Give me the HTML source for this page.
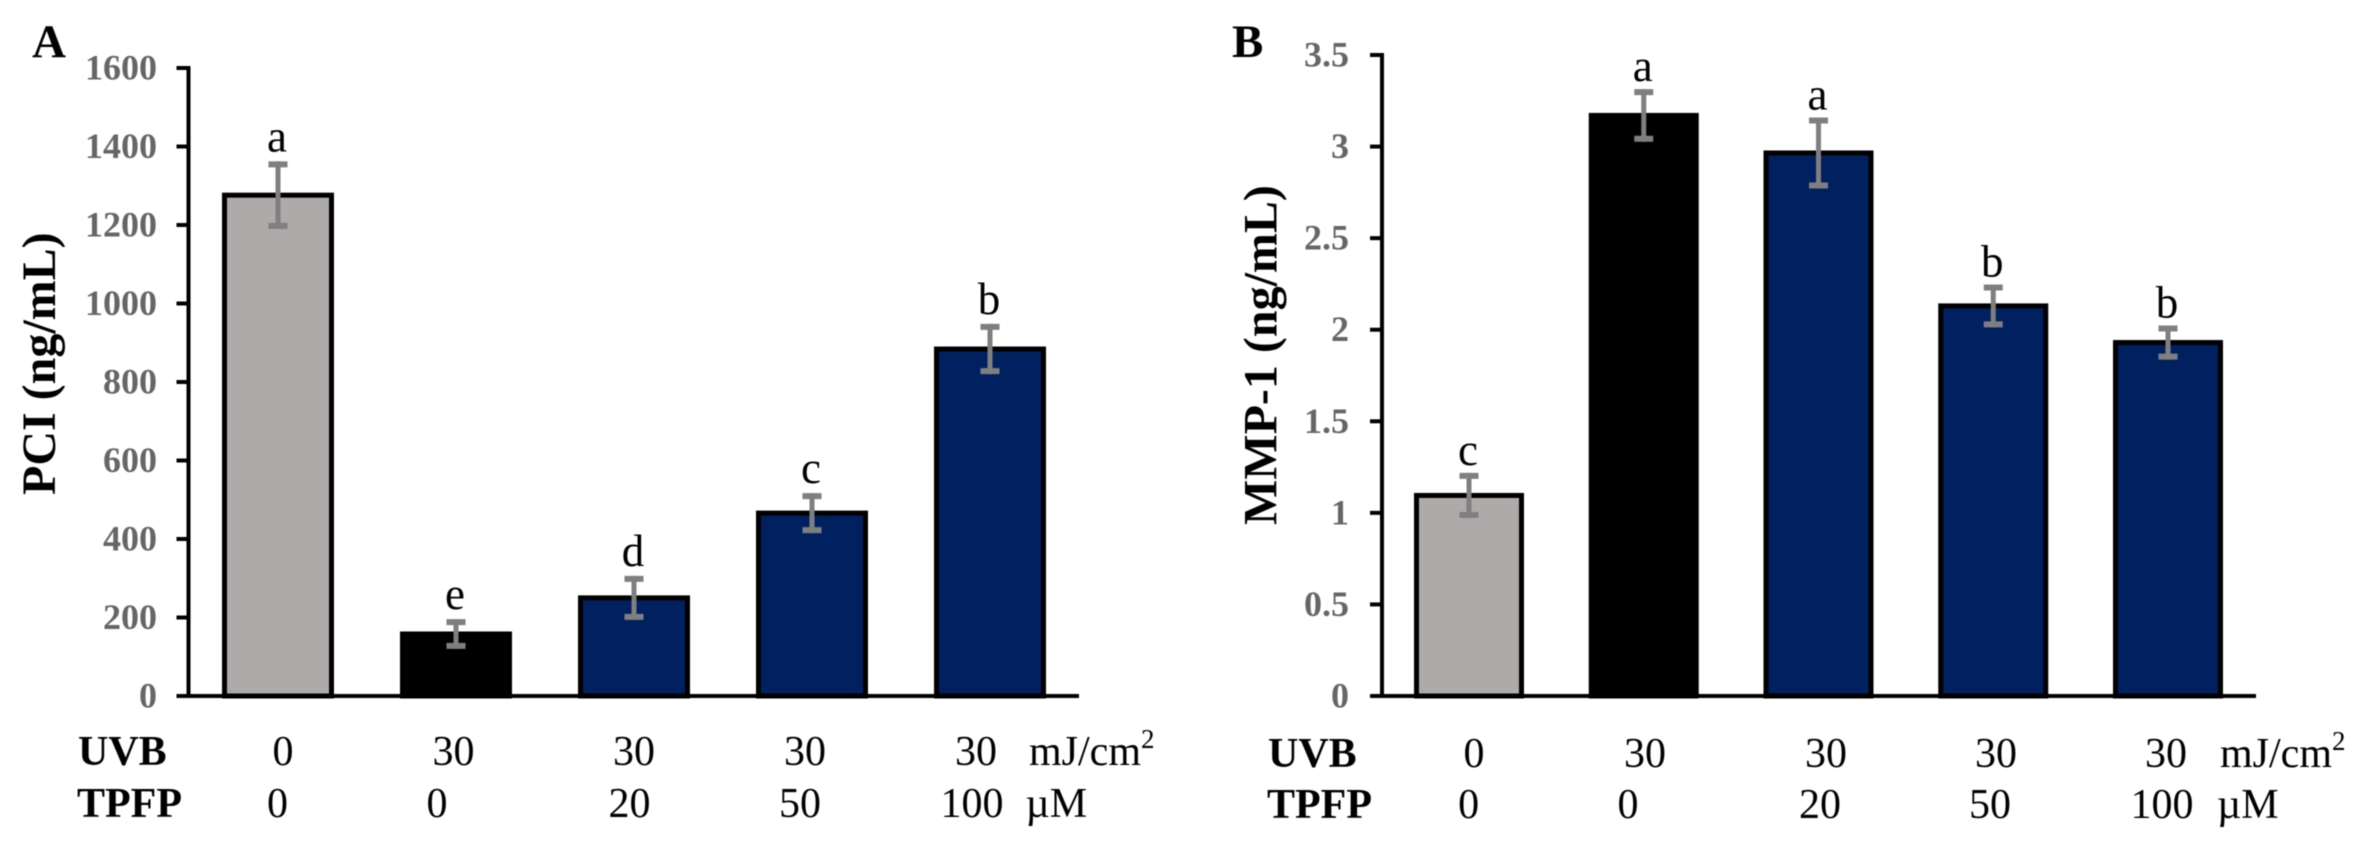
<!DOCTYPE html>
<html lang="en">
<head>
<meta charset="utf-8">
<title>PCI and MMP-1 bar charts</title>
<style>
  html, body { margin: 0; padding: 0; background: #fff; }
  #figure { display: block; width: 2361px; height: 845px; filter: blur(0.5px); }
  text { font-family: "Liberation Serif", serif; }
  .tick { font-size: 36px; font-weight: bold; fill: #666; text-anchor: end; }
  .row { font-size: 42px; fill: #000; text-anchor: middle; }
  .row-head { font-size: 42px; font-weight: bold; fill: #000; }
  .unit { font-size: 42px; fill: #000; }
  .title { font-size: 48px; font-weight: bold; fill: #000; }
  .panel { font-size: 47px; font-weight: bold; fill: #000; }
  .sig { font-size: 45px; fill: #000; text-anchor: middle; }
</style>
</head>
<body>
<svg id="figure" xmlns="http://www.w3.org/2000/svg" width="2361" height="845" viewBox="0 0 2361 845">
  <rect width="2361" height="845" fill="#fff"/>

  <g id="panel-a">
    <text class="panel" x="32" y="57">A</text>
    <text class="title" transform="translate(55,495) rotate(-90)">PCI (ng/mL)</text>
    <g>
      <text class="row-head" x="78" y="765">UVB</text>
      <text class="row" x="283" y="765">0</text>
      <text class="row" x="453.5" y="765">30</text>
      <text class="row" x="634" y="765">30</text>
      <text class="row" x="805" y="765">30</text>
      <text class="row" x="976" y="765">30</text>
      <text class="unit" x="1029" y="765">mJ/cm<tspan font-size="27" dy="-17">2</tspan></text>
    </g>
    <g>
      <text class="row-head" x="77" y="817">TPFP</text>
      <text class="row" x="277.5" y="817">0</text>
      <text class="row" x="437" y="817">0</text>
      <text class="row" x="629.5" y="817">20</text>
      <text class="row" x="800" y="817">50</text>
      <text class="row" x="972" y="817">100</text>
      <text class="unit" x="1025.5" y="817">µM</text>
    </g>
  </g>

  <g id="panel-b">
    <text class="panel" x="1232" y="57">B</text>
    <text class="title" transform="translate(1276.5,525) rotate(-90)">MMP-1 (ng/mL)</text>
    <g>
      <text class="row-head" x="1268" y="767">UVB</text>
      <text class="row" x="1474" y="767">0</text>
      <text class="row" x="1645" y="767">30</text>
      <text class="row" x="1826" y="767">30</text>
      <text class="row" x="1996" y="767">30</text>
      <text class="row" x="2166" y="767">30</text>
      <text class="unit" x="2220" y="767">mJ/cm<tspan font-size="27" dy="-17">2</tspan></text>
    </g>
    <g>
      <text class="row-head" x="1267" y="818">TPFP</text>
      <text class="row" x="1468.6" y="818">0</text>
      <text class="row" x="1628" y="818">0</text>
      <text class="row" x="1820" y="818">20</text>
      <text class="row" x="1990" y="818">50</text>
      <text class="row" x="2162" y="818">100</text>
      <text class="unit" x="2217" y="818">µM</text>
    </g>
  </g>
</svg>

<script>
// Chart data
const groupNames = ['control', 'uvb-only', 'tpfp-20', 'tpfp-50', 'tpfp-100'];

const pciValues = [1276, 158, 250, 466, 884];
const pciErrors = [86, 38, 56, 51, 64];
const pciLetters = ['a', 'e', 'd', 'c', 'b'];
const pciTicks = [0, 200, 400, 600, 800, 1000, 1200, 1400, 1600];

const mmpValues = [1.095, 3.17, 2.965, 2.13, 1.93];
const mmpErrors = [0.123, 0.144, 0.194, 0.117, 0.093];
const mmpLetters = ['c', 'a', 'a', 'b', 'b'];
const mmpTicks = [0, 0.5, 1, 1.5, 2, 2.5, 3, 3.5];

const barColors = ['#AEAAAA', '#000000', '#002060', '#002060', '#002060'];

const SVG_NS = 'http://www.w3.org/2000/svg';

function make(parent, tag, attrs, content) {
  const el = document.createElementNS(SVG_NS, tag);
  for (const key in attrs) el.setAttribute(key, attrs[key]);
  if (content !== undefined) el.textContent = content;
  parent.appendChild(el);
  return el;
}

function drawPanel(cfg) {
  const root = document.getElementById(cfg.id);
  const yTop = cfg.ticks[cfg.ticks.length - 1];
  const y = function (v) { return cfg.baseY - (v / yTop) * (cfg.baseY - cfg.topY); };
  const x = function (i) { return cfg.firstX + i * cfg.stepX; };
  const border = 5;

  cfg.values.forEach(function (v, i) {
    const bar = make(root, 'rect', {
      x: x(i) - (cfg.barW - border) / 2,
      y: y(v),
      width: cfg.barW - border,
      height: cfg.baseY - y(v),
      fill: barColors[i],
      stroke: '#000',
      'stroke-width': border
    });
    
    
  });

  cfg.values.forEach(function (v, i) {
    const hi = y(v + cfg.errors[i]);
    const lo = y(v - cfg.errors[i]);
    const group = make(root, 'g', { stroke: '#7F7F7F', fill: 'none' });
    
    
    make(group, 'line', { x1: x(i), x2: x(i), y1: hi, y2: lo, 'stroke-width': 5 });
    make(group, 'line', { x1: x(i) - 9.5, x2: x(i) + 9.5, y1: hi + 3, y2: hi + 3, 'stroke-width': 6 });
    make(group, 'line', { x1: x(i) - 9.5, x2: x(i) + 9.5, y1: lo - 3, y2: lo - 3, 'stroke-width': 6 });

    const letter = make(root, 'text', {
      class: 'sig',
      x: x(i) - 1,
      y: hi - cfg.letterGap
    }, cfg.letters[i]);
    
    
  });

  const yAxis = make(root, 'line', {
    x1: cfg.axisX, x2: cfg.axisX,
    y1: cfg.topY - 2, y2: cfg.baseY + 2,
    stroke: '#000', 'stroke-width': 4
  });
  
  

  const xAxis = make(root, 'line', {
    x1: cfg.axisX, x2: cfg.axisEnd,
    y1: cfg.baseY, y2: cfg.baseY,
    stroke: '#000', 'stroke-width': 4
  });
  
  

  cfg.ticks.forEach(function (t) {
    const mark = make(root, 'line', {
      x1: cfg.axisX - 12, x2: cfg.axisX,
      y1: y(t), y2: y(t),
      stroke: '#000', 'stroke-width': 4
    });
    
    

    const label = make(root, 'text', {
      class: 'tick',
      x: cfg.tickLabelX,
      y: y(t) + 11.5
    }, String(t));
    
    
  });
}

drawPanel({
  id: 'panel-a',
  values: pciValues, errors: pciErrors, letters: pciLetters, ticks: pciTicks,
  baseY: 696, topY: 68, axisX: 188.5, axisEnd: 1079,
  firstX: 278, stepX: 178, barW: 112, tickLabelX: 157, letterGap: 10
});

drawPanel({
  id: 'panel-b',
  values: mmpValues, errors: mmpErrors, letters: mmpLetters, ticks: mmpTicks,
  baseY: 696, topY: 55, axisX: 1382, axisEnd: 2256,
  firstX: 1469, stepX: 174.75, barW: 110, tickLabelX: 1349, letterGap: 8
});
</script>
</body>
</html>
